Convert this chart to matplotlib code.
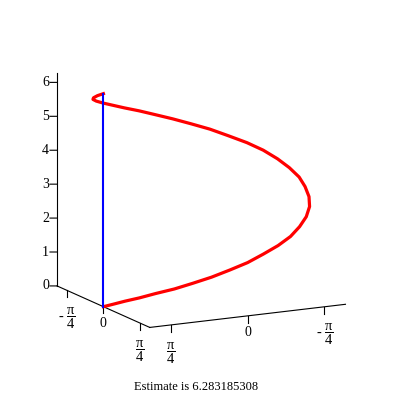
import numpy as np
import matplotlib
matplotlib.use("Agg")
import matplotlib.pyplot as plt
from mpl_toolkits.mplot3d import proj3d

plt.rcParams['font.family'] = 'Liberation Serif'
plt.rcParams['mathtext.fontset'] = 'custom'
plt.rcParams['mathtext.rm'] = 'Liberation Serif'
plt.rcParams['mathtext.it'] = 'Liberation Serif:italic'

# helix points (10 degree steps)
curve_x = [1, .98, .94, .87, .77, .64, .5, .34, .17, 0, -.17, -.34, -.5, -.64, -.77, -.87, -.94, -.98, -1,
           -.98, -.94, -.87, -.77, -.64, -.5, -.34, -.17, 0, .17, .34, .5, .64, .77, .87, .94, .98, 1]
curve_y = [0, .17, .34, .5, .64, .77, .87, .94, .98, 1, .98, .94, .87, .77, .64, .5, .34, .17, 0,
           -.17, -.34, -.5, -.64, -.77, -.87, -.94, -.98, -1, -.98, -.94, -.87, -.77, -.64, -.5, -.34, -.17, 0]
curve_z = [0, .17, .35, .52, .70, .87, 1.05, 1.22, 1.40, 1.57, 1.75, 1.92, 2.09, 2.27, 2.44, 2.62, 2.79, 2.97, 3.14,
           3.32, 3.49, 3.67, 3.84, 4.01, 4.19, 4.36, 4.54, 4.71, 4.89, 5.06, 5.24, 5.41, 5.59, 5.76, 5.93, 6.11, 6.28]
seg_x = [1, 1]
seg_y = [0, 0]
seg_z = [0, 6.28]

z_ticks = [0, 1, 2, 3, 4, 5, 6]
y_ticks = [-np.pi/4, 0, np.pi/4]
y_labels = [r'- $\dfrac{\mathrm{\pi}}{4}$', '0', r'$\dfrac{\mathrm{\pi}}{4}$']
x_ticks = [np.pi/4, 0, -np.pi/4]
x_labels = [r'$\dfrac{\mathrm{\pi}}{4}$', '0', r'- $\dfrac{\mathrm{\pi}}{4}$']
estimate = 6.283185308

fig = plt.figure(figsize=(4, 4), dpi=100)
ax = fig.add_axes([0.041, 0.0665, 0.9, 0.9], projection='3d', proj_type='ortho')
ax.view_init(elev=13.3, azim=62.8)
ax.set_box_aspect((1.085, 1.0, 1.08), zoom=1.0)
ax.set_xlim(-1, 1)
ax.set_ylim(-1, 1)
ax.set_zlim(0, 2*np.pi)
ax.set_axis_off()

M = ax.get_proj()

def label(x, y, z, s, dx, dy, ha, va, size):
    px, py, _ = proj3d.proj_transform(x, y, z, M)
    ax.annotate(s, (px, py), xytext=(dx, dy), textcoords='offset pixels',
                ha=ha, va=va, fontsize=size, annotation_clip=False)

# frame lines
ax.plot([1, 1], [-1, -1], [0, 2*np.pi], color='black', lw=0.8)
ax.plot([1, 1], [-1, 1], [0, 0], color='black', lw=0.8)
ax.plot([1, -1], [1, 1], [0, 0], color='black', lw=0.8)

tk = 0.2
for z in z_ticks:
    ax.plot([1, 1.057], [-1, -1.032], [z, z], color='black', lw=0.8)
    label(1, -1, z, str(z), -8, 0, 'right', 'center', 10)
for v, lab in zip(y_ticks, y_labels):
    ax.plot([1, 1], [v, v], [0, -tk], color='black', lw=0.8)
    if lab == '0':
        label(1, v, 0, lab, 0, -10, 'center', 'top', 10)
    else:
        label(1, v, 0, lab, 0, -15, 'center', 'top', 10.5)
for v, lab in zip(x_ticks, x_labels):
    ax.plot([v, v], [1, 1], [0, -tk], color='black', lw=0.8)
    if lab == '0':
        label(v, 1, 0, lab, 0, -10, 'center', 'top', 10)
    else:
        label(v, 1, 0, lab, 0, -15, 'center', 'top', 10.5)

ax.plot(curve_x, curve_y, curve_z, color='red', lw=2.3)
ax.plot(seg_x, seg_y, seg_z, color='blue', lw=1.5)

fig.text(0.489, 0.032, 'Estimate is ' + str(estimate), ha='center', va='center', fontsize=9)
fig.savefig('out.png', dpi=100)
